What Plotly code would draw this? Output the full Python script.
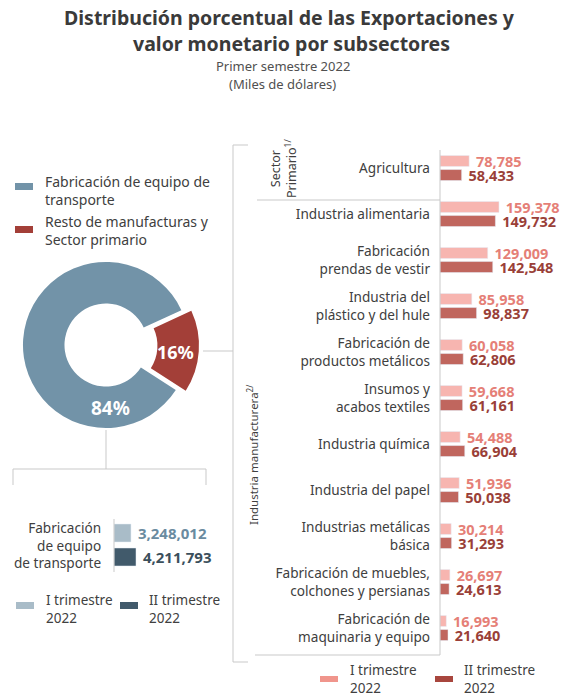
import plotly.graph_objects as go

W, H = 563, 696

# ---------------- data ----------------
pie_labels = ["Fabricación de equipo de transporte", "Resto de manufacturas y Sector primario"]
pie_values = [84, 16]

transp_label = "Fabricación<br>de equipo<br>de transporte"
transp_q1 = [3248012]
transp_q2 = [4211793]

categories = [
    "Agricultura",
    "Industria alimentaria",
    "Fabricación<br>prendas de vestir",
    "Industria del<br>plástico y del hule",
    "Fabricación de<br>productos metálicos",
    "Insumos y<br>acabos textiles",
    "Industria química",
    "Industria del papel",
    "Industrias metálicas<br>básica",
    "Fabricación de muebles,<br>colchones y persianas",
    "Fabricación de<br>maquinaria y equipo",
]
q1_values = [78785, 159378, 129009, 85958, 60058, 59668, 54488, 51936, 30214, 26697, 16993]
q2_values = [58433, 149732, 142548, 98837, 62806, 61161, 66904, 50038, 31293, 24613, 21640]

legend_q = ["I trimestre<br>2022", "II trimestre<br>2022"]

# ---------------- styles ----------------
FONT = "Noto Sans"
TXT = "#404040"
LINE = "#c9c9c9"
BLUE, RED = "#7293a8", "#a33f38"
LB_L, LB_D = "#a9bcc8", "#415a6b"
RB_L, RB_D = "#f7b5b0", "#c0665e"
RL_L, RL_D = "#f0958c", "#a8463e"


def px(x):
    return x / W


def py(y):
    return 1 - y / H


fig = go.Figure()

# donut
fig.add_trace(go.Pie(
    labels=pie_labels, values=pie_values, hole=0.5, sort=False,
    direction="clockwise", rotation=122.8, pull=[0, 0.12],
    marker=dict(colors=[BLUE, RED], line=dict(width=0)),
    textinfo="none", hoverinfo="label+percent", showlegend=False,
    domain=dict(x=[px(13), px(199)], y=[py(438), py(252)]),
))

# right bars
nb = "\u00a0"
VAL_SIZE = 14.5
fig.add_trace(go.Bar(
    y=categories, x=q1_values, orientation="h", marker_color=RB_L,
    text=[nb + f"{v:,}" for v in q1_values], textposition="outside",
    textfont=dict(family=FONT, size=VAL_SIZE, color="#e57f77", weight="bold"),
    constraintext="none", cliponaxis=False, showlegend=False,
    xaxis="x", yaxis="y",
))
fig.add_trace(go.Bar(
    y=categories, x=q2_values, orientation="h", marker_color=RB_D,
    text=[nb + f"{v:,}" for v in q2_values], textposition="outside",
    textfont=dict(family=FONT, size=VAL_SIZE, color="#9a3f38", weight="bold"),
    constraintext="none", cliponaxis=False, showlegend=False,
    xaxis="x", yaxis="y",
))

# left bars (transport)
fig.add_trace(go.Bar(
    y=[0], x=transp_q1, orientation="h", marker_color=LB_L, width=0.75, offset=-0.375,
    text=[nb + f"{v:,}" for v in transp_q1], textposition="outside",
    textfont=dict(family=FONT, size=15, color="#6a8ba0", weight="bold"),
    constraintext="none", cliponaxis=False, showlegend=False,
    xaxis="x2", yaxis="y2",
))
fig.add_trace(go.Bar(
    y=[1], x=transp_q2, orientation="h", marker_color=LB_D, width=0.75, offset=-0.375,
    text=[nb + f"{v:,}" for v in transp_q2], textposition="outside",
    textfont=dict(family=FONT, size=15, color="#3b4f5c", weight="bold"),
    constraintext="none", cliponaxis=False, showlegend=False,
    xaxis="x2", yaxis="y2",
))

shapes = []


def hline(x0, x1, y):
    shapes.append(dict(type="line", xref="paper", yref="paper", x0=px(x0), x1=px(x1),
                       y0=py(y), y1=py(y), line=dict(color=LINE, width=1)))


def vline(x, y0, y1):
    shapes.append(dict(type="line", xref="paper", yref="paper", x0=px(x), x1=px(x),
                       y0=py(y0), y1=py(y1), line=dict(color=LINE, width=1)))


def rect(x0, y0, x1, y1, c):
    shapes.append(dict(type="rect", xref="paper", yref="paper", x0=px(x0), x1=px(x1),
                       y0=py(y0), y1=py(y1), fillcolor=c, line=dict(width=0)))


# bracket right
vline(233, 145, 662)
hline(233, 248, 145)
hline(233, 248, 662)
# connector from red slice
hline(203, 233, 351)
# right axis & separators
vline(440, 150, 655)
hline(257, 440, 200)
hline(255, 440, 655)
# below donut
vline(106, 430, 469)
hline(13, 206, 469)
vline(13, 469, 485)
vline(206, 469, 485)
# left axis line
vline(114, 519, 572)

# legend swatches
rect(15, 183, 33, 190, BLUE)
rect(15, 226, 33, 233, RED)
rect(16, 602, 34, 609, LB_L)
rect(120, 602, 138, 609, LB_D)
rect(320, 676, 338, 682, RL_L)
rect(435, 676, 453, 682, RL_D)

annotations = []


def ann(text, x, y, size=13, color=TXT, xanchor="left", align="left", bold=False, angle=0, family=FONT):
    annotations.append(dict(text=text, x=px(x), y=py(y), xref="paper", yref="paper",
                            showarrow=False, xanchor=xanchor, yanchor="middle", align=align,
                            textangle=angle,
                            font=dict(family=family, size=size, color=color,
                                      weight="bold" if bold else "normal")))


# titles
ann("Distribución porcentual de las Exportaciones y", 289, 18, size=19.5, color="#3a3a3a",
    xanchor="center", align="center", bold=True)
ann("valor monetario por subsectores", 291, 43, size=19.5, color="#3a3a3a",
    xanchor="center", align="center", bold=True)
ann("Primer semestre 2022", 283, 66, size=13, color="#505050", xanchor="center", align="center")
ann("(Miles de dólares)", 283, 84, size=13, color="#505050", xanchor="center", align="center")

# pie legend
ann("Fabricación de equipo de<br>transporte", 43, 191, size=14)
ann("Resto de manufacturas y<br>Sector primario", 43, 231, size=14)

# pie percentages
tot = sum(pie_values)
ann(f"{pie_values[1] / tot * 100:.0f}%", 175, 352, size=18, color="white", xanchor="center",
    align="center", bold=True)
ann(f"{pie_values[0] / tot * 100:.0f}%", 110, 408, size=19, color="white", xanchor="center",
    align="center", bold=True)

# left chart label and legend
ann(transp_label, 103, 545, size=13.6, xanchor="right", align="right")
ann(legend_q[0], 44, 609, size=13.5)
ann(legend_q[1], 147, 609, size=13.5)

# right legend
ann(legend_q[0], 348, 679, size=13.5)
ann(legend_q[1], 462, 679, size=13.5)

# group labels (rotated)
ann("Sector<br>Primario<sup>1/</sup>", 283, 168, size=12.5, angle=-90, xanchor="center", align="center")
ann("Industria manufacturera<sup>2/</sup>", 252, 455, size=11.5, angle=-90, xanchor="center", align="center")

fig.update_layout(
    width=W, height=H, margin=dict(l=0, r=0, t=0, b=0),
    paper_bgcolor="white", plot_bgcolor="white",
    barmode="group", bargap=0.39, bargroupgap=0.22,
    font=dict(family=FONT, size=13, color=TXT),
    shapes=shapes, annotations=annotations,
    xaxis=dict(domain=[px(440), 1], range=[0, 123 / 0.37 * 1000], visible=False, fixedrange=True),
    yaxis=dict(domain=[py(651), py(145)], type="category", autorange="reversed",
               showline=False, showgrid=False, ticks="", ticklabelstandoff=9,
               tickfont=dict(family=FONT, size=13.6, color=TXT), fixedrange=True),
    xaxis2=dict(domain=[px(114), px(240)], range=[0, 4211793 * 126 / 22], visible=False,
                anchor="y2", fixedrange=True),
    yaxis2=dict(domain=[py(569), py(521)], range=[1.5, -0.5], visible=False, anchor="x2",
                fixedrange=True),
)

fig.write_html(
    "out.html",
    config={"displayModeBar": False},
    post_script="document.body.style.margin='0';document.body.style.overflow='hidden';",
)
